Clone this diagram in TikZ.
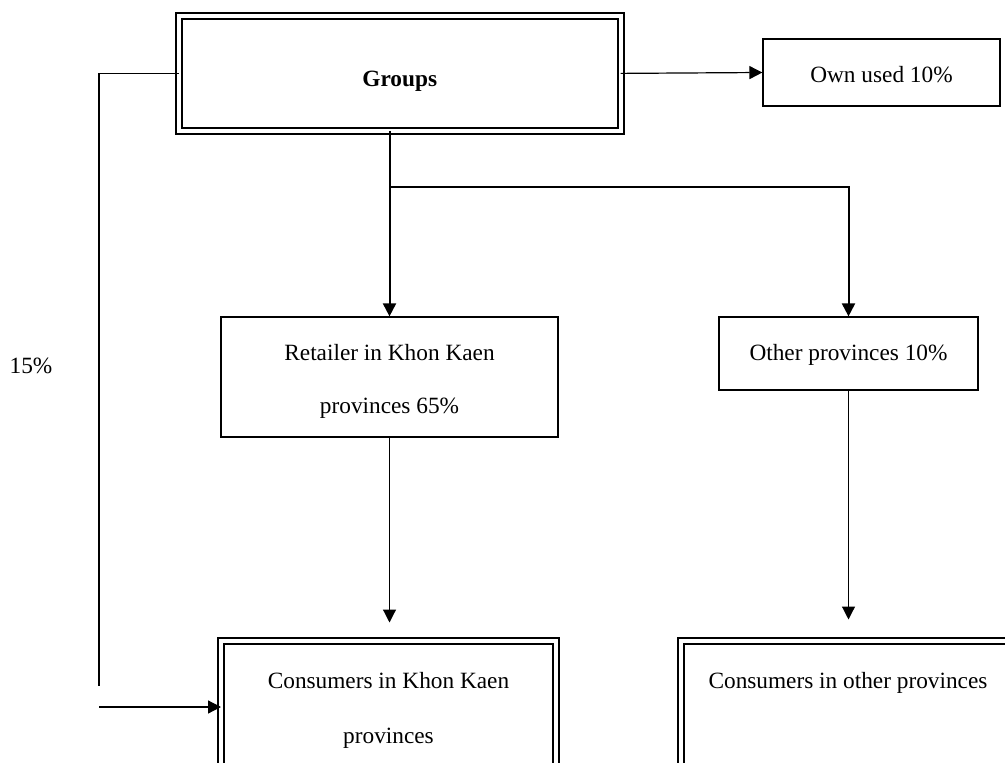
\documentclass[tikz,border=0pt]{standalone}
\usepackage{fontspec}
\setmainfont{Liberation Serif}
\usetikzlibrary{arrows.meta}
\tikzset{
  thinbox/.style={draw, line width=0.6pt, inner sep=0pt, text depth=2.5pt},
  dblbox/.style={draw, double, line width=1pt, double distance=2pt, inner sep=0pt, outer sep=0pt},
  conbox/.style={dblbox, anchor=north, minimum width=167.5pt, inner ysep=15.75pt,
    align=center, font=\fontsize{11.65}{27.5}\selectfont},
  arr/.style={line width=0.6pt, -{Triangle[length=6.5pt,width=6.5pt]}},
}
\begin{document}
\begin{tikzpicture}[x=0.5pt, y=-0.5pt, font=\fontsize{11.65}{14}\selectfont]
\clip (0,0) rectangle (1005,763);
\node[dblbox, minimum width=220.75pt, minimum height=57.4pt, font=\fontsize{11.65}{14}\selectfont\bfseries,
  text height=15.5pt, text depth=2.5pt] (groups) at (399.75,73.4) {Groups};
\node[thinbox, minimum width=118.5pt, minimum height=33.5pt, text height=12.5pt] (own) at (881.5,72.5) {Own used 10\%};
\node[thinbox, minimum width=168.5pt, minimum height=60pt, align=center, text height=39.5pt, text depth=2.5pt,
  font=\fontsize{11.65}{26.5}\selectfont] (retail) at (389.5,377) {Retailer in Khon Kaen\\provinces 65\%};
\node[thinbox, minimum width=129.5pt, minimum height=36.5pt, text height=10pt] (other) at (848.5,353.5) {Other provinces 10\%};
\node[conbox, text height=35.5pt, text depth=10pt] (conskk) at (388.5,640.5) {Consumers in Khon Kaen\\provinces};
\node[conbox, text height=8pt, text depth=37.5pt] (consoth) at (848,640.5) {Consumers in other provinces};
\node (pct) at (31,366) {15\%};
\coordinate (lbottom) at (99,686);
\coordinate (lstart) at (99,707);
\coordinate (fork) at (389.5,187);
\draw[line width=0.6pt] (groups.west) -| (lbottom);
\draw[arr] (lstart) -- (lstart -| conskk.west);
\draw[arr] (groups.east) -- (own.west);
\draw[arr, line width=1pt] (groups.south -| retail.north) -- (retail.north);
\draw[arr, line width=1pt] (fork) -| (other.north);
\draw[arr, shorten >=9pt] (retail.south) -- (retail.south |- conskk.north);
\draw[arr, shorten >=10.5pt] (other.south) -- (other.south |- consoth.north);
\end{tikzpicture}
\end{document}
